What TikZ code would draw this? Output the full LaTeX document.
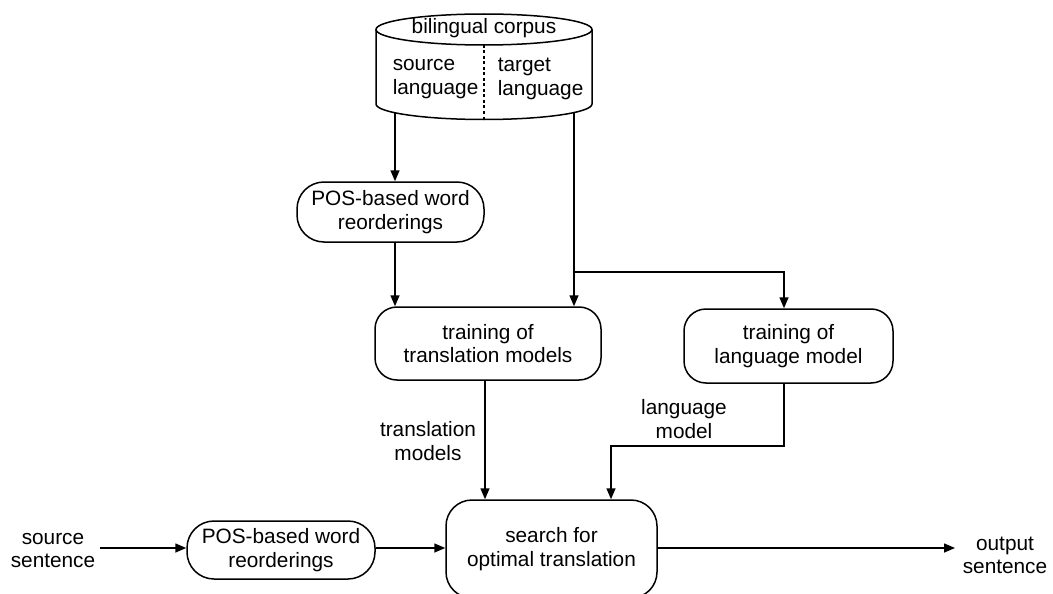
\documentclass[tikz,border=0pt]{standalone}
\usepackage{fontspec}
\setmainfont{Liberation Sans}
\usetikzlibrary{arrows.meta}
\begin{document}
\begin{tikzpicture}[x=1pt,y=-1pt,
  font=\fontsize{20.8pt}{23.5pt}\selectfont,
  line width=1.5pt,
  box/.style={draw, rounded corners=#1, inner sep=0pt, align=center},
  box/.default=22pt,
  lbl/.style={inner sep=0pt, align=center},
  arr/.style={-{Triangle[length=11pt,width=9pt]}},
  flow/.style={draw, arr}
]
\useasboundingbox (0,0) rectangle (1053,594);

% bilingual corpus store
\def\cx{484}\def\rx{108}\def\ry{15.5}
\draw (\cx-\rx,29.5) -- (\cx-\rx,104)
      arc[start angle=180,end angle=360,x radius=\rx pt,y radius=\ry pt]
      -- (\cx+\rx,29.5);
\draw (\cx,29.5) ellipse[x radius=\rx pt,y radius=\ry pt];
\draw[line width=1.1pt, dash pattern=on 3pt off 2.5pt] (\cx,45) -- (\cx,119.5);
\node[lbl] (corpus) at (\cx,28) {bilingual corpus};
\node[lbl, anchor=west, align=left] (srclang) at (392,79) {source\\language};
\node[lbl, anchor=west, align=left] (tgtlang) at (497,79) {target\\language};
\coordinate (srcout) at (395,113);
\coordinate (tgtout) at (574,113);

% processing boxes
\node[box=27pt, minimum width=187pt, minimum height=60pt] (pos1) at (390.5,212) {POS-based word\\reorderings};
\node[box, minimum width=226pt, minimum height=73pt] (tm) at (488,343.5) {training of\\translation models};
\node[box, minimum width=209pt, minimum height=74pt] (lm) at (788.5,346) {training of\\language model};
\node[box=27pt, minimum width=188pt, minimum height=58pt] (pos2) at (281,550) {POS-based word\\reorderings};
\node[box=26pt, minimum width=211pt, minimum height=98pt] (search) at (551.5,549) {search for\\optimal translation};

% free texts
\node[lbl] (srcsent) at (53,550.5) {source\\sentence};
\node[lbl] (outsent) at (1005,555.5) {output\\sentence};
\node[lbl] (tmlbl) at (428,441) {translation\\models};
\node[lbl] (lmlbl) at (684,419) {language\\model};

% connectors
\draw[flow] (srcout) -- (pos1.north -| srcout);
\draw[flow] (pos1.south -| srcout) -- (tm.north -| srcout);
\draw[flow] (tgtout) -- (tm.north -| tgtout);
\coordinate (split) at (574,272);
\draw[flow] (split) -| (lm.north -| 784,0);
\draw[flow] (tm.south -| 485,0) -- (search.north -| 485,0);
\coordinate (lmbend) at (784,446);
\draw[flow] (lm.south -| lmbend) -- (lmbend) -| (search.north -| 611,0);
\draw[flow] (srcsent.east |- 0,548) ++(4,0) -- (pos2.west |- 0,548);
\draw[flow] (pos2.east |- 0,548) -- (search.west |- 0,548);
\draw[flow] (search.east |- 0,548) -- (955,548);
\end{tikzpicture}
\end{document}
